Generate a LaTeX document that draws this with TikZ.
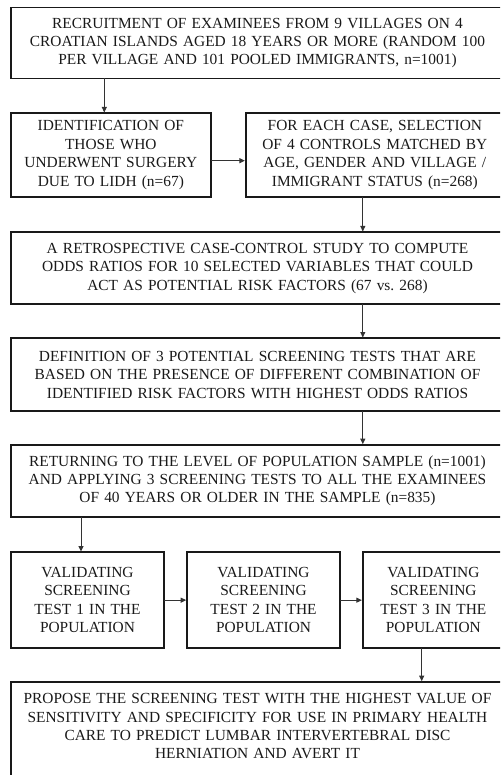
\documentclass[tikz,border=0pt]{standalone}
\usepackage{fontspec}
\setmainfont{Liberation Serif}
\usetikzlibrary{arrows.meta,calc}
\begin{document}
\begin{tikzpicture}[x=1pt,y=-1pt,
  box/.style={draw=black!90, line width=1.8pt, anchor=north west, align=center,
    inner sep=0pt, outer sep=0pt, text=black!90,
    font=\fontsize{15.4}{18.4}\selectfont},
  wide/.style={minimum width=493pt, text width=485pt},
  arr/.style={draw=black!80, line width=0.9pt, shorten >=0.8pt,
    -{Triangle[length=5.5pt,width=5pt]}}]
\useasboundingbox (0,0) rectangle (500,775);
\clip (0,0) rectangle (500,775);

\node[box, wide, minimum height=71pt] (b1) at (11,7.5)
  {RECRUITMENT OF EXAMINEES FROM 9 VILLAGES ON 4\\
   CROATIAN ISLANDS AGED 18 YEARS OR MORE (RANDOM 100\\
   PER VILLAGE AND 101 POOLED IMMIGRANTS, n=1001)};
\node[box, minimum width=199.7pt, text width=192pt, minimum height=83.4pt] (b2) at (11,113.3)
  {IDENTIFICATION OF\\ THOSE WHO\\ UNDERWENT SURGERY\\ DUE TO LIDH (n=67)};
\node[box, minimum width=258.3pt, text width=250pt, minimum height=83.4pt] (b3) at (245.7,113.3)
  {FOR EACH CASE, SELECTION\\ OF 4 CONTROLS MATCHED BY\\ AGE, GENDER AND VILLAGE /\\ IMMIGRANT STATUS (n=268)};
\node[box, wide, minimum height=71.7pt] (b4) at (11,232.3)
  {A RETROSPECTIVE CASE-CONTROL STUDY TO COMPUTE\\
   ODDS RATIOS FOR 10 SELECTED VARIABLES THAT COULD\\
   ACT AS POTENTIAL RISK FACTORS (67 vs.\ 268)};
\node[box, wide, minimum height=72.7pt] (b5) at (11,338.3)
  {DEFINITION OF 3 POTENTIAL SCREENING TESTS THAT ARE\\
   BASED ON THE PRESENCE OF DIFFERENT COMBINATION OF\\
   IDENTIFIED RISK FACTORS WITH HIGHEST ODDS RATIOS};
\node[box, wide, minimum height=71.7pt] (b6) at (11,445)
  {RETURNING TO THE LEVEL OF POPULATION SAMPLE (n=1001)\\
   AND APPLYING 3 SCREENING TESTS TO ALL THE EXAMINEES\\
   OF 40 YEARS OR OLDER IN THE SAMPLE (n=835)};
\node[box, minimum width=153pt, text width=146pt, minimum height=95.7pt] (b7) at (11,552.3)
  {VALIDATING\\ SCREENING\\ TEST 1 IN THE\\ POPULATION};
\node[box, minimum width=153pt, text width=146pt, minimum height=95.7pt] (b8) at (187,552.3)
  {VALIDATING\\ SCREENING\\ TEST 2 IN THE\\ POPULATION};
\node[box, minimum width=141.3pt, text width=134pt, minimum height=95.7pt] (b9) at (362.7,552.3)
  {VALIDATING\\ SCREENING\\ TEST 3 IN THE\\ POPULATION};
\node[box, wide, inner ysep=11.5pt] (b10) at (11,682)
  {PROPOSE THE SCREENING TEST WITH THE HIGHEST VALUE OF\\
   SENSITIVITY AND SPECIFICITY FOR USE IN PRIMARY HEALTH\\
   CARE TO PREDICT LUMBAR INTERVERTEBRAL DISC\\
   HERNIATION AND AVERT IT\rule[-40pt]{0pt}{40pt}};

\coordinate (xa) at (104.3,0);
\coordinate (xb) at (362.8,0);
\coordinate (xc) at (81,0);
\coordinate (xd) at (421.7,0);
\coordinate (ya) at (0,160.7);

\draw[arr] (b1.south -| xa) -- (b2.north -| xa);
\draw[arr] (b2.east |- ya) -- (b3.west |- ya);
\draw[arr] (b3.south -| xb) -- (b4.north -| xb);
\draw[arr] (b4.south -| xb) -- (b5.north -| xb);
\draw[arr] (b5.south -| xb) -- (b6.north -| xb);
\draw[arr] (b6.south -| xc) -- (b7.north -| xc);
\draw[arr] (b7.east) -- (b8.west);
\draw[arr] (b8.east) -- (b9.west);
\draw[arr] (b9.south -| xd) -- (b10.north -| xd);
\end{tikzpicture}
\end{document}
